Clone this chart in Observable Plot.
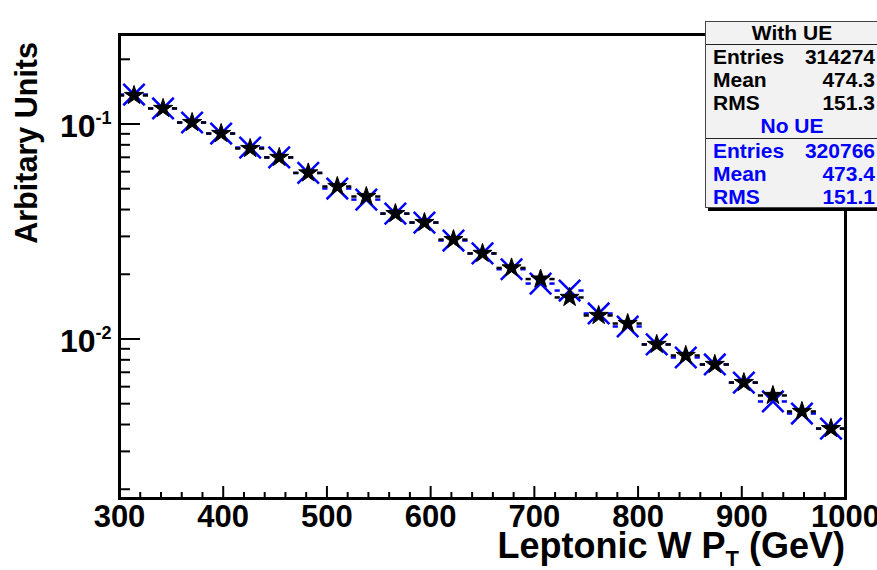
<!DOCTYPE html>
<html><head><meta charset="utf-8">
<script src="https://cdn.jsdelivr.net/npm/d3@7"></script>
<script src="https://cdn.jsdelivr.net/npm/@observablehq/plot@0.6"></script>
<style>
body{margin:0;background:#fff;}
#wrap{position:relative;width:877px;height:570px;overflow:hidden;font-family:"Liberation Sans",Arial,sans-serif;}
#stats{position:absolute;left:705px;top:21px;width:176px;height:187px;box-sizing:border-box;border:1px solid #444;background:#f2f2f2;box-shadow:3px 3px 0 #000;font-weight:bold;font-size:21px;}
#stats .hdr{height:22px;line-height:22px;text-align:center;padding-right:2px;}
#stats .row{height:23px;line-height:23px;display:flex;justify-content:space-between;padding:0 5px 0 7px;}
#stats .sep{border-bottom:1px solid #222;}
#stats .blue{color:#0000ff;}
</style></head><body><div id="wrap"></div>
<script>
// ---- data ----
const binCenters = [314,342,370,398,426,454,482,510,538,566,594,622,650,678,706,734,762,790,818,846,874,902,930,958,986];
const binWidth = 28;
const withUE = [0.1357,0.1181,0.1016,0.0903,0.0769,0.0699,0.0592,0.0512,0.0460,0.0383,0.0348,0.0290,0.0250,0.0214,0.0190,0.0156,0.01286,0.0118,0.00943,0.00838,0.00761,0.00627,0.00546,0.00460,0.00383];
const noUE   = [0.1371,0.1181,0.1016,0.0903,0.0777,0.0699,0.0592,0.0501,0.0445,0.0383,0.0348,0.0287,0.0250,0.0211,0.0181,0.0168,0.01314,0.01143,0.00943,0.00820,0.00761,0.00627,0.00512,0.00450,0.00383];
const xTickLabels = [300,400,500,600,700,800,900,1000];
const xMinorTicks = [320,340,360,380,420,440,460,480,520,540,560,580,620,640,660,680,720,740,760,780,820,840,860,880,920,940,960,980];
const yMajorTicks = [0.01,0.1];
const yMinorTicks = [0.002,0.003,0.004,0.005,0.006,0.007,0.008,0.009,0.02,0.03,0.04,0.05,0.06,0.07,0.08,0.09,0.2];
const statLabels = ["Entries","Mean","RMS"];
const withUEStats = ["314274","474.3","151.3"];
const noUEStats = ["320766","473.4","151.1"];
const seriesNames = ["With UE","No UE"];
const xTitle = ["Leptonic W P","T"," (GeV)"];
const yTitle = "Arbitary Units";

// ---- layout ----
const W = 877, H = 570, mL = 119, mR = 32, mT = 34, mB = 72;
const plotW = W - mL - mR, plotH = H - mT - mB;
const gap = 9; // marker half-size in x data units (for the bin-width bars)

const black = binCenters.map((x,i)=>({x, v: withUE[i]}));
const blue  = binCenters.map((x,i)=>({x, v: noUE[i]}));

const font = "Liberation Sans, Arial, sans-serif";
const chart = Plot.plot({
  width: W, height: H,
  marginLeft: mL, marginRight: mR, marginTop: mT, marginBottom: mB,
  style: {fontFamily: font, background: "white", overflow: "visible"},
  x: {domain: [300,1000], axis: null},
  y: {type: "log", domain: [0.001811, 0.2608], axis: null},
  marks: [
    // ticks inside the frame
    Plot.tickX(xTickLabels, {x: d=>d, insetTop: plotH-12, stroke:"black", strokeWidth:2}),
    Plot.tickX(xMinorTicks, {x: d=>d, insetTop: plotH-6, stroke:"black", strokeWidth:2}),
    Plot.tickY(yMajorTicks, {y: d=>d, insetRight: plotW-21, stroke:"black", strokeWidth:2}),
    Plot.tickY(yMinorTicks, {y: d=>d, insetRight: plotW-11, stroke:"black", strokeWidth:2}),
    // tick labels
    Plot.text(xTickLabels, {x: d=>d, frameAnchor:"bottom", lineAnchor:"top", dy: 6, text: d=>String(d), fontSize: 31, fontWeight:"bold", fill:"black"}),
    Plot.text(yMajorTicks, {y: d=>d, frameAnchor:"left", textAnchor:"end", dx: -24, dy: 3, text: ()=>"10", fontSize: 32, fontWeight:"bold", fill:"black"}),
    Plot.text(yMajorTicks, {y: d=>d, frameAnchor:"left", textAnchor:"end", dx: -8, dy: -6, text: d=>String(Math.round(Math.log10(d))), fontSize: 18, fontWeight:"bold", fill:"black"}),
    // blue (No UE) bin-width bars and markers
    Plot.ruleY(blue, {y:"v", x1: d=>d.x-binWidth/2, x2: d=>d.x-gap, stroke:"#0000ff", strokeWidth:2.5}),
    Plot.ruleY(blue, {y:"v", x1: d=>d.x+gap, x2: d=>d.x+binWidth/2, stroke:"#0000ff", strokeWidth:2.5}),
    Plot.dot(blue, {x:"x", y:"v", symbol:"times", r: 9.8, stroke:"#0000ff", strokeWidth: 2.5}),
    // black (With UE)
    Plot.ruleY(black, {y:"v", x1: d=>d.x-binWidth/2, x2: d=>d.x-gap, stroke:"black", strokeWidth:2.5}),
    Plot.ruleY(black, {y:"v", x1: d=>d.x+gap, x2: d=>d.x+binWidth/2, stroke:"black", strokeWidth:2.5}),
    Plot.dot(black, {x:"x", y:"v", symbol:"star", r: 6, fill:"black", stroke:"black", strokeWidth: 1}),
    Plot.frame({stroke:"black", strokeWidth: 3})
  ]
});
document.getElementById("wrap").appendChild(chart);

// axis titles
const svg = d3.select(chart);
const xt = svg.append("text").attr("x", mL+plotW).attr("y", 558).attr("text-anchor","end")
  .attr("font-family", font).attr("font-size", 36).attr("font-weight","bold").attr("fill","black");
xt.append("tspan").text(xTitle[0]);
xt.append("tspan").attr("font-size", 22).attr("dy", 8).text(xTitle[1]);
xt.append("tspan").attr("dy", -8).text(xTitle[2]);
svg.append("text").attr("transform", `translate(37,${mT+8}) rotate(-90)`).attr("text-anchor","end")
  .attr("font-family", font).attr("font-size", 30.5).attr("font-weight","bold").attr("fill","black").text(yTitle);

// stats box
const box = d3.select("#wrap").append("div").attr("id","stats");
box.append("div").attr("class","hdr sep").text(seriesNames[0]);
statLabels.forEach((l,i)=>{ const r = box.append("div").attr("class","row"); r.append("span").text(l); r.append("span").text(withUEStats[i]); });
box.append("div").attr("class","hdr sep blue").style("height","24px").style("line-height","24px").text(seriesNames[1]);
statLabels.forEach((l,i)=>{ const r = box.append("div").attr("class","row blue"); r.append("span").text(l); r.append("span").text(noUEStats[i]); });
</script></body></html>
